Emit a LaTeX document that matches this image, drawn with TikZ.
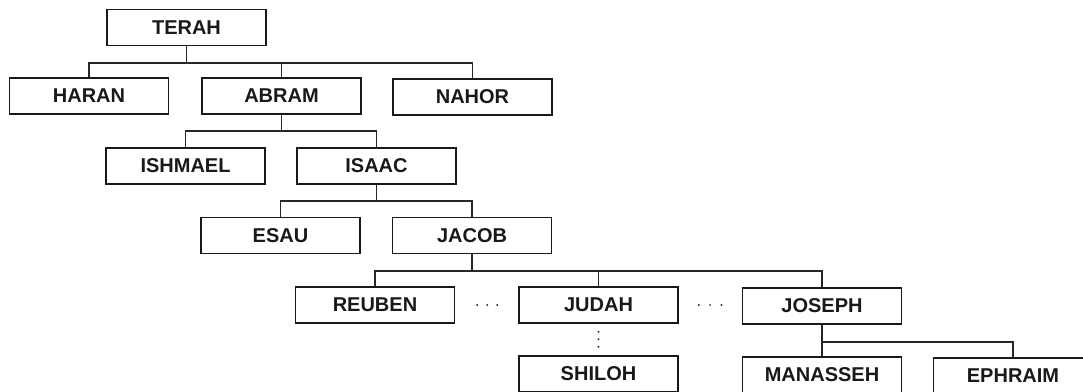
\documentclass[tikz,border=0pt]{standalone}
\usepackage{fontspec}
\setmainfont{Liberation Sans}
\begin{document}
\begin{tikzpicture}[x=1pt,y=-1pt,
  person/.style={draw=black!90, line width=1.6pt, minimum width=159pt, minimum height=36pt,
    inner sep=0pt, font=\fontsize{20}{22}\selectfont\bfseries, text=black!90},
  conn/.style={draw=black!85, line width=1.4pt},
  dotrow/.style={draw=black!80, line width=2.2pt, line cap=round}]
\useasboundingbox (0,0) rectangle (1083,391);
\node[person] (TERAH) at (186.5,27.5) {TERAH};
\node[person] (HARAN) at (89,96) {HARAN};
\node[person] (ABRAM) at (281.5,96) {ABRAM};
\node[person] (NAHOR) at (472.5,97) {NAHOR};
\node[person] (ISHMAEL) at (185.5,166) {ISHMAEL};
\node[person] (ISAAC) at (376.5,166) {ISAAC};
\node[person] (ESAU) at (280.5,235.5) {ESAU};
\node[person] (JACOB) at (472,235.5) {JACOB};
\node[person] (REUBEN) at (375,305) {REUBEN};
\node[person] (JUDAH) at (598.5,305) {JUDAH};
\node[person] (JOSEPH) at (822,306) {JOSEPH};
\node[person] (SHILOH) at (598.5,374) {SHILOH};
\node[person] (MANASSEH) at (822,375) {MANASSEH};
\node[person] (EPHRAIM) at (1013,376) {EPHRAIM};
% TERAH's children
\draw[conn] (TERAH.south) -- ++(0,16.5) coordinate (b1);
\draw[conn] (HARAN.north) |- (b1) -| (NAHOR.north);
\draw[conn] (b1 -| ABRAM.north) -- (ABRAM.north);
% ABRAM's children
\draw[conn] (ABRAM.south) -- ++(0,16) coordinate (b2);
\draw[conn] (ISHMAEL.north) |- (b2) -| (ISAAC.north);
% ISAAC's children
\draw[conn] (ISAAC.south) -- ++(0,16) coordinate (b3);
\draw[conn] (ESAU.north) |- (b3) -| (JACOB.north);
% JACOB's children
\draw[conn] (JACOB.south) -- ++(0,16.5) coordinate (b4);
\draw[conn] (REUBEN.north) |- (b4) -| (JOSEPH.north);
\draw[conn] (b4 -| JUDAH.north) -- (JUDAH.north);
% JOSEPH's children
\draw[conn] (JOSEPH.south) -- ++(0,17) coordinate (b5);
\draw[conn] (MANASSEH.north) |- (b5) -| (EPHRAIM.north);
% ellipses
\draw[dotrow, dash pattern=on 0pt off 10pt, shorten <=22pt, shorten >=20pt] (REUBEN.east) -- (JUDAH.west);
\draw[dotrow, dash pattern=on 0pt off 11.3pt, shorten <=20pt, shorten >=20pt] (JUDAH.east) -- (JUDAH.east -| JOSEPH.west);
\draw[dotrow, dash pattern=on 0pt off 7.5pt, shorten <=8pt, shorten >=7pt] (JUDAH.south) -- (SHILOH.north);
\end{tikzpicture}
\end{document}
